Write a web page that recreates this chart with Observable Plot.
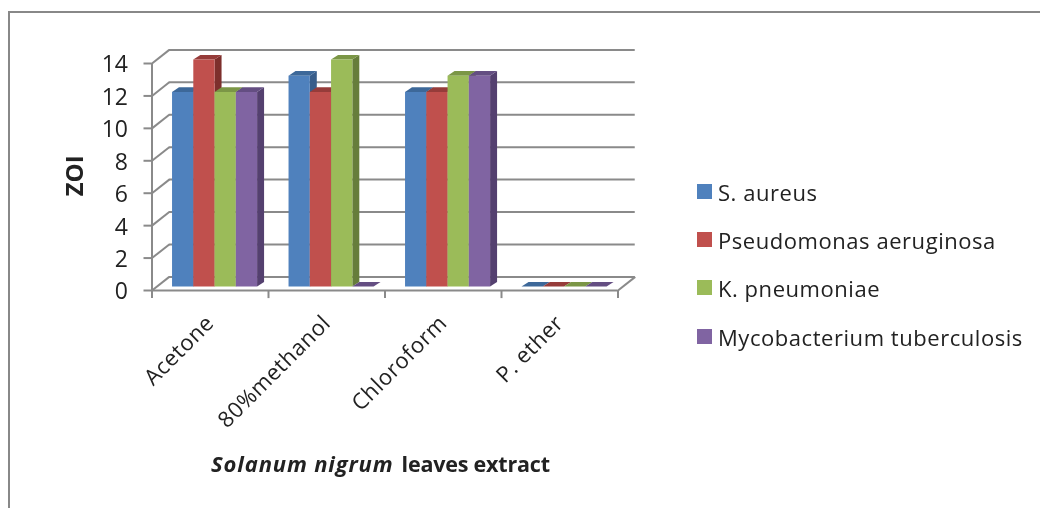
<!DOCTYPE html>
<html>
<head>
<meta charset="utf-8">
<script src="https://cdn.jsdelivr.net/npm/d3@7"></script>
<script src="https://cdn.jsdelivr.net/npm/@observablehq/plot@0.6"></script>
<style>
html,body{margin:0;padding:0;background:#fff;}
#wrap{position:relative;width:1040px;height:508px;overflow:hidden;font-family:"Open Sans",sans-serif;color:#222;filter:blur(.35px);}
#frame{position:absolute;left:8px;top:11px;right:-4px;bottom:-4px;border:2px solid #888;}
#wrap svg{position:absolute;left:0;top:0;}
.lg{position:absolute;left:697px;height:26px;line-height:26px;font-size:22px;letter-spacing:.55px;white-space:nowrap;}
.lg i{position:absolute;left:0;top:5px;width:14.5px;height:14.5px;}
.lg span{position:absolute;left:21px;top:0;}
.cat text{letter-spacing:.55px;}
.ttl1 text{letter-spacing:.85px;}
.ttl2 text{letter-spacing:-.2px;}
</style>
</head>
<body>
<div id="wrap"><div id="frame"></div></div>
<script>
const categories = ["Acetone", "80%methanol", "Chloroform", "P. ether"];
const seriesNames = ["S. aureus", "Pseudomonas aeruginosa", "K. pneumoniae", "Mycobacterium tuberculosis"];
const sAureus = [12, 13, 12, 0];
const pseudomonas = [14, 12, 12, 0];
const kPneumoniae = [12, 14, 13, 0];
const mycobacterium = [12, 0, 13, 0];
const yTicks = [0, 2, 4, 6, 8, 10, 12, 14];
const xEdges = [0, 1, 2, 3, 4];
const frontColors = ["#4F81BD", "#C0504D", "#9BBB59", "#8064A2"];
const sideColors = ["#385D8A", "#7D2F2C", "#667D3B", "#54406F"];
const topColors = ["#3D6899", "#963C3A", "#7B9646", "#644E82"];

const seriesValues = [sAureus, pseudomonas, kPneumoniae, mycobacterium];

// geometry in data units (1 x unit = one category, 1 y unit = one ZOI)
const barStart = 0.172, barW = 0.1825, barDx = 0.06, barDy = 0.28, barBase = 0.25;
const wallDx = 0.148, wallDy = 0.84;

const polys = [];
let id = 0;
categories.forEach((c, i) => {
  seriesValues.forEach((vals, s) => {
    const v = vals[i];
    const x0 = i + barStart + s * barW, x1 = x0 + barW;
    const b = barBase, t = v + barBase;
    const add = (color, pts) => { id++; pts.forEach(([x, y]) => polys.push({id, color, x, y})); };
    if (v > 0) {
      add(sideColors[s], [[x1, b], [x1 + barDx, b + barDy], [x1 + barDx, t + barDy], [x1, t]]);
      add(topColors[s], [[x0, t], [x1, t], [x1 + barDx, t + barDy], [x0 + barDx, t + barDy]]);
      add(frontColors[s], [[x0, b], [x1, b], [x1, t], [x0, t]]);
    } else {
      add(topColors[s], [[x0, t], [x1, t], [x1 + barDx, t + barDy], [x0 + barDx, t + barDy]]);
    }
  });
});

const gray = "#8a8a8a";
const labelFont = {fontFamily: "'Open Sans',sans-serif", fill: "#222"};
const chart = Plot.plot({
  width: 1040, height: 508,
  marginLeft: 151.5, marginRight: 422.5, marginTop: 63, marginBottom: 218,
  style: {background: "transparent", overflow: "visible"},
  x: {type: "linear", domain: [0, 4], axis: null},
  y: {type: "linear", domain: [0, 14], axis: null},
  color: {type: "identity"},
  marks: [
    // back wall grid and side-wall diagonals
    Plot.ruleY(yTicks, {x1: wallDx, x2: 4 + wallDx, y: d => d + wallDy, stroke: gray, strokeWidth: 2}),
    Plot.link(yTicks, {x1: 0, y1: d => d, x2: wallDx, y2: d => d + wallDy, stroke: gray, strokeWidth: 2}),
    Plot.link([0], {x1: 4, y1: 0, x2: 4 + wallDx, y2: wallDy, stroke: gray, strokeWidth: 2}),
    // front axes
    Plot.ruleX([0], {y1: 0, y2: 14, stroke: gray, strokeWidth: 2}),
    Plot.ruleY([0], {x1: 0, x2: 4, stroke: gray, strokeWidth: 2}),
    Plot.axisY({ticks: yTicks, tickSize: 8, stroke: gray, strokeWidth: 2, tickFormat: () => "", label: null}),
    Plot.axisY({ticks: yTicks, tickSize: 0, tickPadding: 24, dy: 1.5, fill: "#222", fontSize: 23,
      fontFamily: "'Open Sans',sans-serif", tickFormat: d => String(d), label: null}),
    Plot.ruleX(xEdges, {x: d => d, y1: 0, y2: -0.5, stroke: gray, strokeWidth: 2}),
    // bars
    Plot.line(polys, {x: "x", y: "y", z: "id", fill: "color", stroke: "none", curve: "linear"}),
    // category labels
    Plot.text(categories, {x: (d, i) => i + 0.5, y: 0, text: d => d, rotate: -45, textAnchor: "end",
      lineAnchor: "middle", dx: 0, dy: 29, fontSize: 22, className: "cat", ...labelFont}),
    // axis titles
    Plot.text(["ZOI"], {x: -0.66, y: 7.07, text: d => d, rotate: -90, fontSize: 24, fontWeight: "bold", ...labelFont}),
    Plot.text(["Solanum nigrum"], {x: 2.073, y: -10.75, text: d => d, textAnchor: "end", fontSize: 22,
      fontWeight: "bold", fontStyle: "italic", className: "ttl1", ...labelFont}),
    Plot.text(["leaves extract"], {x: 2.142, y: -10.75, text: d => d, textAnchor: "start", fontSize: 21.5,
      fontWeight: "bold", className: "ttl2", ...labelFont})
  ]
});
const wrap = document.getElementById("wrap");
wrap.appendChild(chart);

const legendRows = [179, 227, 275, 324];
seriesNames.forEach((name, i) => {
  const row = document.createElement("div");
  row.className = "lg";
  row.style.top = legendRows[i] + "px";
  const sw = document.createElement("i");
  sw.style.background = frontColors[i];
  const tx = document.createElement("span");
  tx.textContent = name;
  row.append(sw, tx);
  wrap.appendChild(row);
});
</script>
</body>
</html>
